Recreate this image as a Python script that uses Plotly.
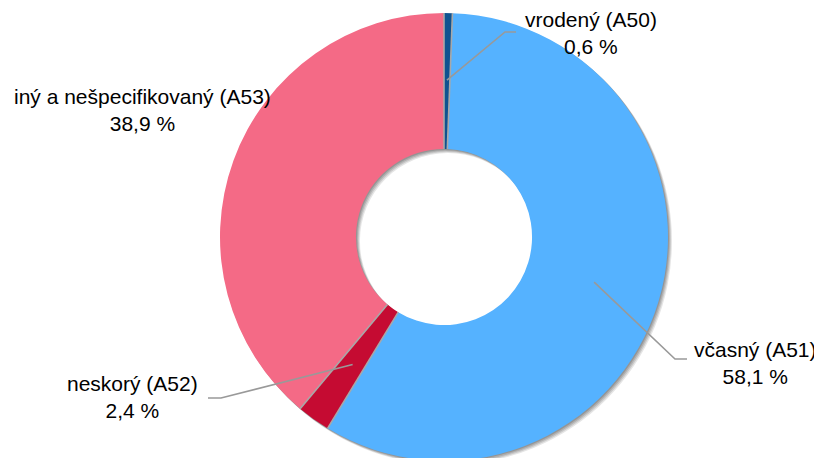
import math
import plotly.graph_objects as go

# ---- data ----
categories = ["vrodený (A50)", "včasný (A51)", "neskorý (A52)", "iný a nešpecifikovaný (A53)"]
values = [0.6, 58.1, 2.4, 38.9]
value_labels = ["0,6 %", "58,1 %", "2,4 %", "38,9 %"]
colors = ["#0f5290", "#55b2ff", "#c50b32", "#f46a86"]

# ---- layout constants (screen pixels) ----
W, H = 814, 458
OFF = 8  # page body margin
CX, CY, R = 444.0, 237.0, 224.0
HOLE = 0.393


def px(x, y):
    return (x - OFF) / W, 1 - (y - OFF) / H


def dom(dx=0.0, dy=0.0):
    xa, ya = px(CX - R + dx, CY + R + dy)
    xb, yb = px(CX + R + dx, CY - R + dy)
    return dict(x=[xa, xb], y=[max(ya, 0), yb])


fig = go.Figure()

# soft drop shadow (stacked offset gray rings)
for d, a in [(1.0, 0.14), (2.0, 0.13), (3.0, 0.12), (4.0, 0.10)]:
    fig.add_trace(go.Pie(values=[1], marker=dict(colors=[f"rgba(0,0,0,{a})"], line=dict(width=0)),
                         hole=HOLE, domain=dom(d, d), sort=False, textinfo="none",
                         hoverinfo="skip", showlegend=False))

fig.add_trace(go.Pie(labels=categories, values=values, marker=dict(colors=colors, line=dict(width=0)),
                     hole=HOLE, domain=dom(), sort=False, direction="clockwise", rotation=0,
                     textinfo="none", showlegend=False))

total = sum(values)
shapes = []
# slice separators
cum = 0.0
for v in values:
    th = 2 * math.pi * cum / total
    x0, y0 = px(CX + R * HOLE * math.sin(th), CY - R * HOLE * math.cos(th))
    x1, y1 = px(CX + R * math.sin(th), CY - R * math.cos(th))
    shapes.append(dict(type="line", xref="paper", yref="paper", x0=x0, y0=y0, x1=x1, y1=y1,
                       line=dict(color="#a8a8a8", width=1.6)))
    cum += v

# label placement (screen pixels): label centre, leader elbow, leader end
label_pos = {
    0: ((591, 33), (505, 32), (516, 32)),
    1: ((755, 363), (675, 359), (687, 359)),
    2: ((132, 397), (221, 398), (208, 398)),
    3: ((142, 110), None, None),
}

annotations = []
cum = 0.0
for i, v in enumerate(values):
    mid = 2 * math.pi * (cum + v / 2) / total
    cum += v
    (lx, ly), elbow, end = label_pos[i]
    ax, ay = px(lx, ly)
    annotations.append(dict(x=ax, y=ay, xref="paper", yref="paper", xanchor="center", yanchor="middle",
                            text=f"{categories[i]}<br>{value_labels[i]}", showarrow=False, align="center",
                            font=dict(family="Liberation Sans, Arial, sans-serif", size=21, color="#000000")))
    if elbow is not None:
        rr = 0.70 * R
        sx, sy = CX + rr * math.sin(mid), CY - rr * math.cos(mid)
        pts = [px(sx, sy), px(*elbow), px(*end)]
        path = "M {} {} L {} {} L {} {}".format(pts[0][0], pts[0][1], pts[1][0], pts[1][1], pts[2][0], pts[2][1])
        shapes.append(dict(type="path", xref="paper", yref="paper", path=path,
                           line=dict(color="#999999", width=1.6)))

fig.update_layout(width=W, height=H, margin=dict(l=0, r=0, t=0, b=0),
                  paper_bgcolor="white", plot_bgcolor="white",
                  shapes=shapes, annotations=annotations)

fig.write_html("out.html")
